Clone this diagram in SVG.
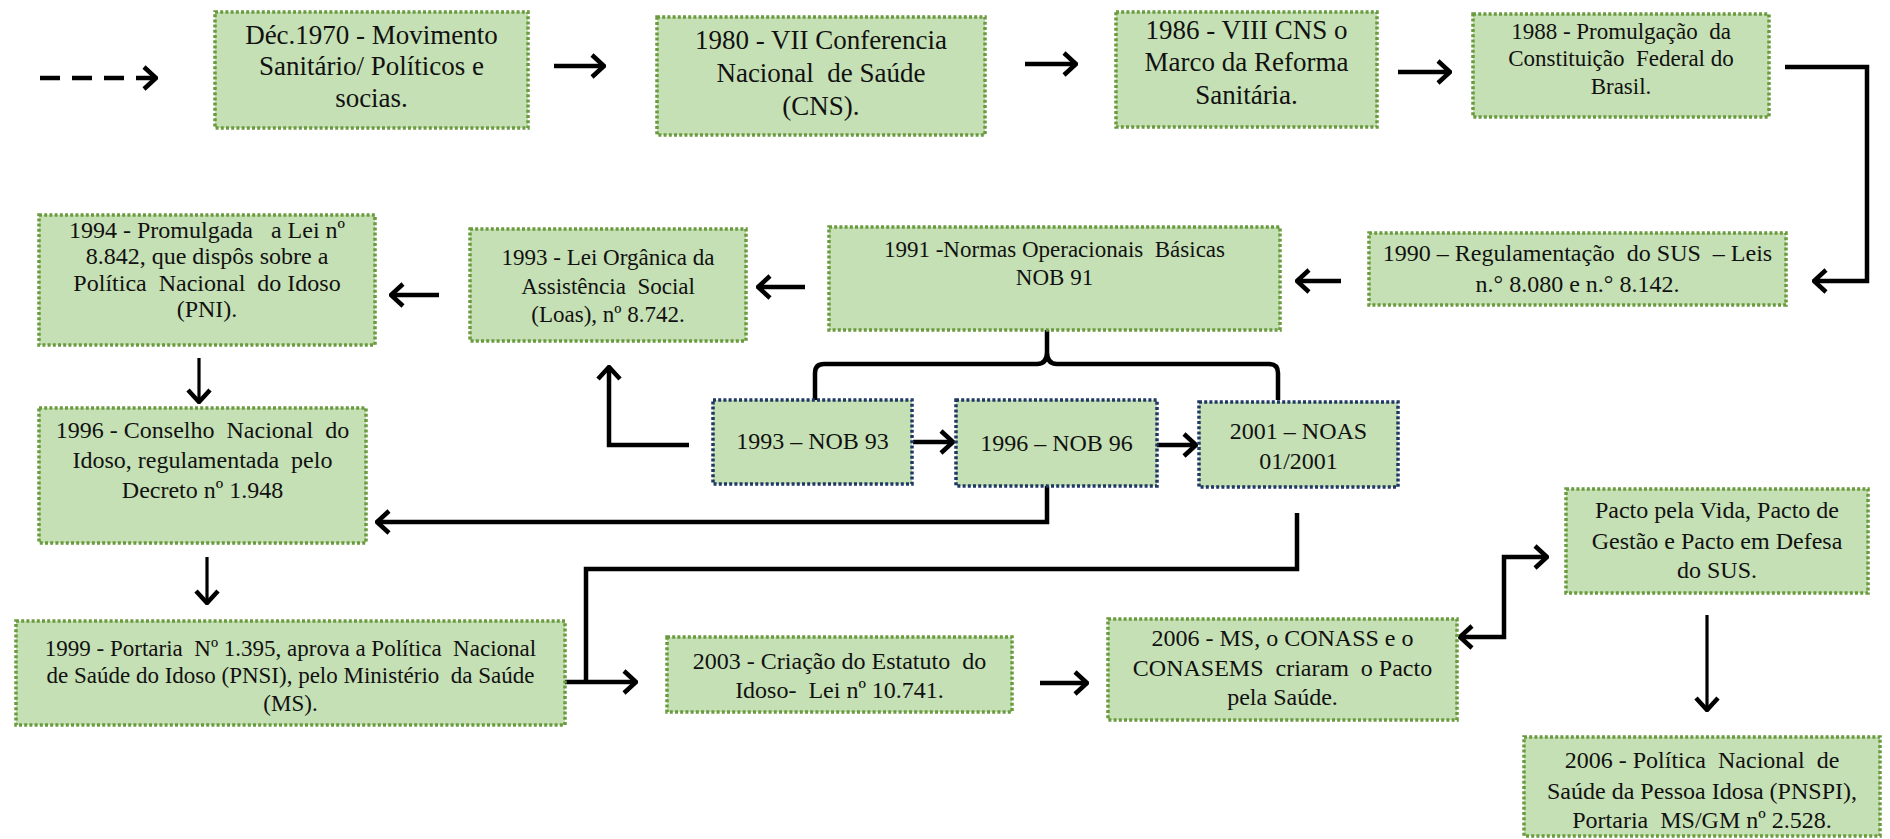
<svg xmlns="http://www.w3.org/2000/svg" width="1890" height="839" viewBox="0 0 1890 839">
<style>
.box{fill:#c5e0b4;stroke:#6a9b3f;stroke-width:3.5;stroke-dasharray:3 2.2}
.nob{fill:#c5e0b4;stroke:#1f3864;stroke-width:3.5;stroke-dasharray:3 2.2}
text{font-family:"Liberation Serif","Times New Roman",serif;fill:#111;text-anchor:middle;white-space:pre}
.t27{font-size:27px}
.t24{font-size:24px}
.t23{font-size:23px}
.ln{fill:none;stroke:#000;stroke-width:4.5;stroke-linejoin:miter}
.arr{marker-end:url(#ah)}
.thin{stroke-width:3.2}
</style>
<defs>
<marker id="ah" markerUnits="userSpaceOnUse" viewBox="0 0 16 26" refX="14" refY="13" markerWidth="16" markerHeight="26" orient="auto-start-reverse">
<path d="M2,2 L14,13 L2,24" fill="none" stroke="#000" stroke-width="4.5"/>
</marker>
</defs>

<g id="connectors">
<path class="ln arr" d="M40,78 H156" stroke-dasharray="20 12"/>
<path class="ln arr" d="M554,66 H604"/>
<path class="ln arr" d="M1025,64 H1076"/>
<path class="ln arr" d="M1398,72 H1450"/>
<path class="ln arr" d="M1785,67 H1867 V281 H1814"/>
<path class="ln arr" d="M1341,281 H1297"/>
<path class="ln arr" d="M805,287 H758"/>
<path class="ln arr" d="M439,295 H391"/>
<path class="ln arr thin" d="M199,358 V402"/>
<path class="ln arr thin" d="M207,557 V603"/>
<path class="ln" d="M815,400 V373 Q815,364 824,364 H1037 Q1047,364 1047,352 V330 M1047,352 Q1047,364 1057,364 H1269 Q1278,364 1278,373 V400"/>
<path class="ln arr" d="M689,445 H609 V367"/>
<path class="ln arr" d="M913,442 H953"/>
<path class="ln arr" d="M1157,445 H1196"/>
<path class="ln arr" d="M1047,486 V522 H377"/>
<path class="ln" d="M1297,513 V569 H586 V682"/>
<path class="ln arr" d="M565,682 H636"/>
<path class="ln arr" d="M1040,683 H1087"/>
<path class="ln arr" d="M1460,637 H1504 V557 H1547" style="marker-start:url(#ah)"/>
<path class="ln arr thin" d="M1707,615 V710"/>
</g>

<g id="n1970">
<rect class="box" x="215" y="12" width="313" height="116"/>
<text class="t27" x="371.5" y="44">Déc.1970 - Movimento</text>
<text class="t27" x="371.5" y="75">Sanitário/ Políticos e</text>
<text class="t27" x="371.5" y="107">socias.</text>
</g>

<g id="n1980">
<rect class="box" x="657" y="17" width="328" height="118"/>
<text class="t27" x="821" y="49">1980 - VII Conferencia</text>
<text class="t27" x="821" y="82">Nacional  de Saúde</text>
<text class="t27" x="821" y="115">(CNS).</text>
</g>

<g id="n1986">
<rect class="box" x="1116" y="12" width="261" height="115"/>
<text class="t27" x="1246.5" y="39">1986 - VIII CNS o</text>
<text class="t27" x="1246.5" y="71">Marco da Reforma</text>
<text class="t27" x="1246.5" y="104">Sanitária.</text>
</g>

<g id="n1988">
<rect class="box" x="1473" y="14" width="296" height="103"/>
<text class="t23" x="1621" y="39">1988 - Promulgação  da</text>
<text class="t23" x="1621" y="66">Constituição  Federal do</text>
<text class="t23" x="1621" y="94">Brasil.</text>
</g>

<g id="n1990">
<rect class="box" x="1369" y="233" width="417" height="72"/>
<text class="t24" x="1577.5" y="261">1990 – Regulamentação  do SUS  – Leis</text>
<text class="t24" x="1577.5" y="292">n.° 8.080 e n.° 8.142.</text>
</g>

<g id="n1991">
<rect class="box" x="829" y="227" width="451" height="103"/>
<text class="t23" x="1054.5" y="257">1991 -Normas Operacionais  Básicas</text>
<text class="t23" x="1054.5" y="285">NOB 91</text>
</g>

<g id="n1993loas">
<rect class="box" x="470" y="229" width="276" height="112"/>
<text class="t23" x="608" y="265">1993 - Lei Orgânica da</text>
<text class="t23" x="608" y="294">Assistência  Social</text>
<text class="t23" x="608" y="322">(Loas), nº 8.742.</text>
</g>

<g id="n1994">
<rect class="box" x="39" y="215" width="336" height="130"/>
<text class="t24" x="207" y="238">1994 - Promulgada   a Lei nº</text>
<text class="t24" x="207" y="264">8.842, que dispôs sobre a</text>
<text class="t24" x="207" y="291">Política  Nacional  do Idoso</text>
<text class="t24" x="207" y="317">(PNI).</text>
</g>

<g id="n1996cni">
<rect class="box" x="39" y="408" width="327" height="135"/>
<text class="t24" x="202.5" y="438">1996 - Conselho  Nacional  do</text>
<text class="t24" x="202.5" y="468">Idoso, regulamentada  pelo</text>
<text class="t24" x="202.5" y="498">Decreto nº 1.948</text>
</g>

<g id="n1999">
<rect class="box" x="16" y="621" width="549" height="104"/>
<text class="t23" x="290.5" y="656">1999 - Portaria  Nº 1.395, aprova a Política  Nacional</text>
<text class="t23" x="290.5" y="683">de Saúde do Idoso (PNSI), pelo Ministério  da Saúde</text>
<text class="t23" x="290.5" y="711">(MS).</text>
</g>

<g id="nob93">
<rect class="nob" x="713" y="400" width="199" height="84"/>
<text class="t24" x="812.5" y="449">1993 – NOB 93</text>
</g>

<g id="nob96">
<rect class="nob" x="956" y="400" width="201" height="86"/>
<text class="t24" x="1056.5" y="451">1996 – NOB 96</text>
</g>

<g id="noas">
<rect class="nob" x="1199" y="402" width="199" height="85"/>
<text class="t24" x="1298.5" y="439">2001 – NOAS</text>
<text class="t24" x="1298.5" y="469">01/2001</text>
</g>

<g id="n2003">
<rect class="box" x="667" y="637" width="345" height="75"/>
<text class="t24" x="839.5" y="669">2003 - Criação do Estatuto  do</text>
<text class="t24" x="839.5" y="698">Idoso-  Lei nº 10.741.</text>
</g>

<g id="n2006pacto">
<rect class="box" x="1108" y="619" width="349" height="101"/>
<text class="t24" x="1282.5" y="646">2006 - MS, o CONASS e o</text>
<text class="t24" x="1282.5" y="676">CONASEMS  criaram  o Pacto</text>
<text class="t24" x="1282.5" y="705">pela Saúde.</text>
</g>

<g id="pactos">
<rect class="box" x="1566" y="489" width="302" height="104"/>
<text class="t24" x="1717" y="518">Pacto pela Vida, Pacto de</text>
<text class="t24" x="1717" y="549">Gestão e Pacto em Defesa</text>
<text class="t24" x="1717" y="578">do SUS.</text>
</g>

<g id="pnspi">
<rect class="box" x="1524" y="737" width="356" height="99"/>
<text class="t24" x="1702" y="768">2006 - Política  Nacional  de</text>
<text class="t24" x="1702" y="799">Saúde da Pessoa Idosa (PNSPI),</text>
<text class="t24" x="1702" y="828">Portaria  MS/GM nº 2.528.</text>
</g>
</svg>
